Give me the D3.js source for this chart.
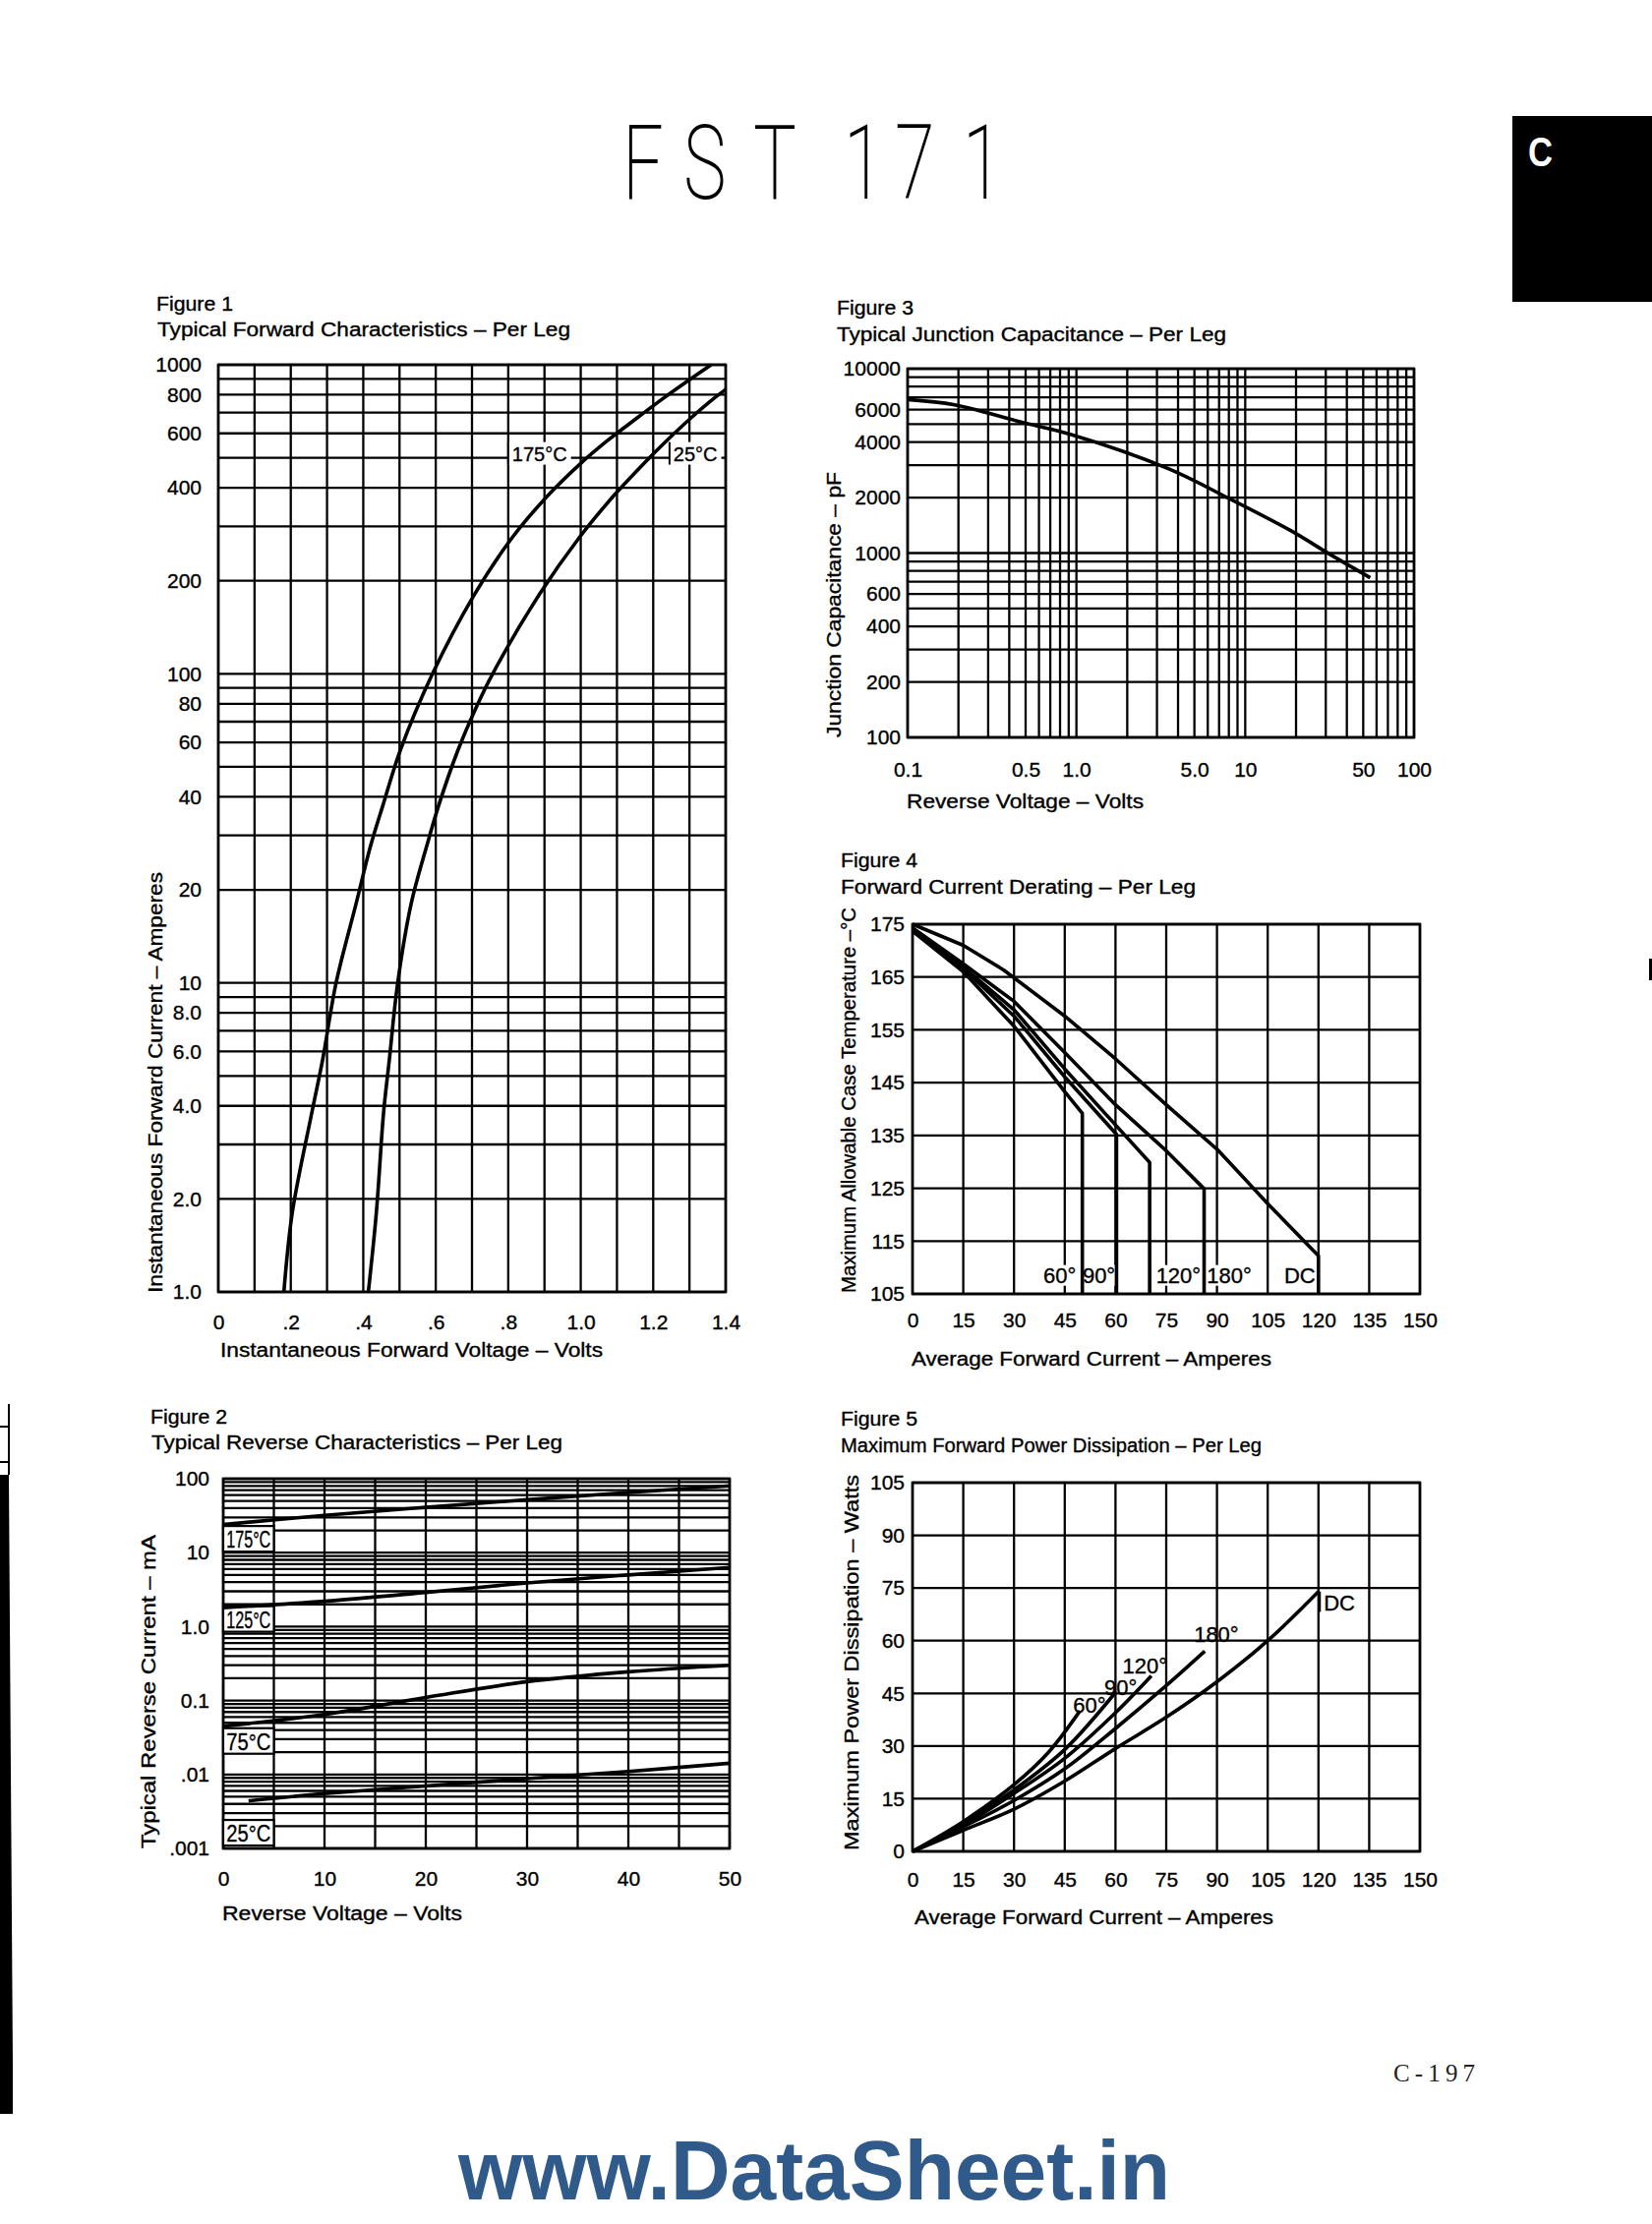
<!DOCTYPE html>
<html><head><meta charset="utf-8">
<script src="https://cdn.jsdelivr.net/npm/d3@7"></script>
<style>html,body{margin:0;padding:0;background:#fff;} svg{display:block}</style>
</head><body>
<svg id="page" width="1680" height="2262"></svg>
<script>
// ================= DATA =================
// Figure 1 – Typical Forward Characteristics (V, A)
const fig1XTicks = [0, 0.2, 0.4, 0.6, 0.8, 1.0, 1.2, 1.4];
const fig1XTickLabels = ["0", ".2", ".4", ".6", ".8", "1.0", "1.2", "1.4"];
const fig1YTicks = [1000, 800, 600, 400, 200, 100, 80, 60, 40, 20, 10, 8, 6, 4, 2, 1];
const fig1YTickLabels = ["1000", "800", "600", "400", "200", "100", "80", "60", "40", "20", "10", "8.0", "6.0", "4.0", "2.0", "1.0"];
const fig1Curve175C = [[0.181,1],[0.204,1.8],[0.258,3.8],[0.288,5.65],[0.325,10],[0.38,18],[0.42,27.7],[0.455,37.8],[0.502,56.5],[0.591,100],[0.706,180],[0.812,277],[0.91,378],[1.002,482],[1.071,565],[1.154,671],[1.226,776],[1.298,891],[1.36,1000]];
const fig1Curve25C = [[0.414,1],[0.436,1.8],[0.456,3.8],[0.472,5.65],[0.495,10],[0.532,18],[0.575,27.7],[0.609,37.8],[0.661,56.5],[0.711,77.6],[0.757,100],[0.885,180],[0.997,277],[1.092,378],[1.176,482],[1.235,565],[1.303,671],[1.366,776],[1.4,832]];
const fig1LabelNames = ["175°C", "25°C"];
const fig1LabelAnchors = [[0.8, 515], [1.245, 515]];

// Figure 2 – Typical Reverse Characteristics (V, mA)
const fig2XTicks = [0, 10, 20, 30, 40, 50];
const fig2YTicks = [100, 10, 1, 0.1, 0.01, 0.001];
const fig2YTickLabels = ["100", "10", "1.0", "0.1", ".01", ".001"];
const fig2Curve175C = [[0,24],[10,32],[20,41],[30,52],[40,65],[50,80]];
const fig2Curve125C = [[0,1.8],[10,2.2],[20,2.9],[30,3.9],[40,5.0],[50,6.3]];
const fig2Curve75C = [[0,0.045],[10,0.065],[20,0.11],[30,0.18],[40,0.245],[50,0.30]];
const fig2Curve25C = [[2.5,0.0044],[10,0.0055],[20,0.007],[30,0.0088],[40,0.011],[50,0.0142]];
const fig2LabelNames = ["175°C", "125°C", "75°C", "25°C"];
const fig2LabelValues = [15.4, 1.27, 0.0284, 0.00163];

// Figure 3 – Typical Junction Capacitance (V, pF)
const fig3XTicks = [0.1, 0.5, 1, 5, 10, 50, 100];
const fig3XTickLabels = ["0.1", "0.5", "1.0", "5.0", "10", "50", "100"];
const fig3YTicks = [10000, 6000, 4000, 2000, 1000, 600, 400, 200, 100];
const fig3Curve = [[0.1,6800],[0.19,6370],[0.47,5130],[0.91,4420],[3.5,2870],[7.9,1990],[18.7,1320],[32,980],[55,735]];

// Figure 4 – Forward Current Derating (A, °C)
const fig4XTicks = [0, 15, 30, 45, 60, 75, 90, 105, 120, 135, 150];
const fig4YTicks = [175, 165, 155, 145, 135, 125, 115, 105];
const fig4CurveDC  = [[0,175],[15,171],[27,166.3],[45,157.6],[60,149.5],[75,140.8],[90,132.4],[105,122.1],[120,112.2],[120,105]];
const fig4Curve180 = [[0,174.3],[15,167.5],[30,160.4],[45,150.7],[60,140.8],[75,132.1],[86.2,124.9],[86.2,105]];
const fig4Curve120 = [[0,174.1],[15,166.9],[30,158.8],[45,147.6],[60,137],[70.1,129.9],[70.1,105]];
const fig4Curve90  = [[0,173.9],[15,166.6],[30,157.6],[45,146.1],[60.3,135.2],[60.3,105]];
const fig4Curve60  = [[0,173.7],[15,166],[30,155.7],[45,143.3],[50.2,139.2],[50.2,105]];
const fig4LabelNames = ["60°", "90°", "120°", "180°", "DC"];
const fig4LabelCenters = [43.5, 55.1, 78.6, 93.6, 114.5];
const fig4LabelLevel = 108.6;

// Figure 5 – Maximum Forward Power Dissipation (A, W)
const fig5XTicks = [0, 15, 30, 45, 60, 75, 90, 105, 120, 135, 150];
const fig5YTicks = [105, 90, 75, 60, 45, 30, 15, 0];
const fig5CurveDC  = [[0,0],[15,6],[30,12],[45,20],[60,29.3],[75,38.2],[90,48.3],[105,60],[120,74]];
const fig5Curve180 = [[0,0],[15,7],[30,14.5],[45,23.5],[60,35],[75,47.2],[86.4,57]];
const fig5Curve120 = [[0,0],[15,7.5],[30,16.5],[45,26.5],[60,39.5],[70.6,50]];
const fig5Curve90  = [[0,0],[15,8],[30,17.5],[45,29],[60.2,45.5]];
const fig5Curve60  = [[0,0],[15,8.5],[30,19],[40,28],[49.5,40]];
const fig5LabelNames = ["DC", "180°", "120°", "90°", "60°"];
const fig5LabelAnchors = [[121, 70.8], [89.8, 61.9], [68.7, 53], [61.5, 46.7], [52.3, 41.7]];

// Page header glyphs
const titleGlyphs = ["F", "S", "T", "1", "7", "1"];

// ================= DRAWING =================
const svg = d3.select("#page");
const FONT = "'Liberation Sans', Arial, Helvetica, sans-serif";
svg.append("rect").attr("width", 1680).attr("height", 2262).attr("fill", "#fff");

function txt(parent, x, y, s, size, len, anchor) {
  const t = parent.append("text").attr("x", x).attr("y", y).text(s)
    .attr("font-family", FONT).attr("font-size", size).attr("fill", "#000")
    .attr("stroke", "#000").attr("stroke-width", 0.35)
    .attr("text-anchor", anchor || "start");
  if (len) t.attr("textLength", len).attr("lengthAdjust", "spacingAndGlyphs");
  return t;
}

function drawPanel(p) {
  const g = svg.append("g");
  const [xa, xb] = p.x.range();
  const [ya, yb] = p.y.range();
  g.append("g").selectAll("line").data(p.xGrid).join("line")
    .attr("x1", d => p.x(d)).attr("x2", d => p.x(d)).attr("y1", yb).attr("y2", ya)
    .attr("stroke", "#000").attr("stroke-width", 2.3);
  g.append("g").selectAll("line").data(p.yGrid).join("line")
    .attr("y1", d => p.y(d)).attr("y2", d => p.y(d)).attr("x1", xa).attr("x2", xb)
    .attr("stroke", "#000").attr("stroke-width", 2.3);
  g.append("rect").attr("x", xa).attr("y", yb).attr("width", xb - xa).attr("height", ya - yb)
    .attr("fill", "none").attr("stroke", "#000").attr("stroke-width", 2.6);

  const bx = g.append("g").attr("transform", `translate(0,${ya})`)
    .call(d3.axisBottom(p.x).tickValues(p.xTicks).tickFormat((d, i) => p.xLabels[i]).tickSize(0).tickPadding(p.xPad));
  bx.select(".domain").remove();
  bx.selectAll("text").attr("font-family", FONT).attr("font-size", 21).attr("fill", "#000")
    .attr("stroke", "#000").attr("stroke-width", 0.35);
  const ly = g.append("g").attr("transform", `translate(${xa},0)`)
    .call(d3.axisLeft(p.y).tickValues(p.yTicks).tickFormat((d, i) => p.yLabels[i]).tickSize(0).tickPadding(p.yPad));
  ly.select(".domain").remove();
  ly.selectAll("text").attr("font-family", FONT).attr("font-size", 21).attr("fill", "#000")
    .attr("stroke", "#000").attr("stroke-width", 0.35);

  txt(g, p.fig[0], p.fig[1], p.fig[2], 20, 78);
  txt(g, p.sub[0], p.sub[1], p.sub[2], 20, p.sub[3]);
  txt(g, p.xt[0], p.xt[1], p.xt[2], 20, p.xt[3]);
  g.append("text").attr("transform", `translate(${p.yt[0]},${p.yt[1]}) rotate(-90)`)
    .attr("font-family", FONT).attr("font-size", 20).attr("fill", "#000")
    .attr("stroke", "#000").attr("stroke-width", 0.35)
    .attr("textLength", p.yt[3]).attr("lengthAdjust", "spacingAndGlyphs").text(p.yt[2]);
  g.layerLabels = g.append("g");
  g.layerCurves = g.append("g");
  g.layerText = g.append("g");
  return g;
}

function drawCurves(g, x, y, series, curveType) {
  const line = d3.line().x(d => x(d[0])).y(d => y(d[1])).curve(curveType);
  g.layerCurves.selectAll("path.c").data(series).join("path").attr("class", "c")
    .attr("d", d => line(d)).attr("fill", "none").attr("stroke", "#000")
    .attr("stroke-width", 3.6).attr("stroke-linejoin", "round").attr("stroke-linecap", "butt");
}
const smooth = d3.curveCatmullRom.alpha(0.5);

// ---------- Figure 1 ----------
const x1 = d3.scaleLinear().domain([0, 1.4]).range([222, 738]);
const y1 = d3.scaleLog().domain([1, 1000]).range([1314, 371]);
const g1 = drawPanel({
  x: x1, y: y1, xGrid: d3.range(0, 15).map(i => i / 10), yGrid: y1.ticks(),
  xTicks: fig1XTicks, xLabels: fig1XTickLabels, yTicks: fig1YTicks, yLabels: fig1YTickLabels,
  xPad: 23, yPad: 17,
  fig: [159, 316, "Figure 1"],
  sub: [160, 342, "Typical Forward Characteristics – Per Leg", 420],
  xt: [224, 1380, "Instantaneous Forward Voltage – Volts", 389],
  yt: [165, 1315, "Instantaneous Forward Current – Amperes", 428]
});
fig1LabelNames.forEach((name, i) => {
  const [vx, vy] = fig1LabelAnchors[i];
  const left = x1(vx), cy = y1(vy);
  const t = txt(g1.layerText, left + 4, cy + 7, name, 20);
  const bb = t.node().getBBox();
  const right = Math.min(bb.x + bb.width + 4, x1.range()[1]);
  g1.layerLabels.append("rect").attr("x", left).attr("y", cy - 12).attr("width", right - left).attr("height", 23).attr("fill", "#fff");
  g1.layerText.append("line").attr("x1", left).attr("x2", left).attr("y1", cy - 12).attr("y2", cy + 11)
    .attr("stroke", "#000").attr("stroke-width", 2);
});
drawCurves(g1, x1, y1, [fig1Curve175C, fig1Curve25C], smooth);

// ---------- Figure 3 ----------
const x3 = d3.scaleLog().domain([0.1, 100]).range([923, 1438]);
const y3 = d3.scaleLog().domain([100, 10000]).range([750, 375]);
const g3 = drawPanel({
  x: x3, y: y3, xGrid: x3.ticks(), yGrid: y3.ticks(),
  xTicks: fig3XTicks, xLabels: fig3XTickLabels, yTicks: fig3YTicks, yLabels: fig3YTicks.map(String),
  xPad: 25, yPad: 7,
  fig: [851, 320, "Figure 3"],
  sub: [851, 347, "Typical Junction Capacitance – Per Leg", 396],
  xt: [922, 822, "Reverse Voltage – Volts", 241],
  yt: [855, 750, "Junction Capacitance – pF", 270]
});
drawCurves(g3, x3, y3, [fig3Curve], smooth);

// ---------- Figure 4 ----------
const x4 = d3.scaleLinear().domain([0, 150]).range([928, 1444]);
const y4 = d3.scaleLinear().domain([105, 175]).range([1316, 940]);
const g4 = drawPanel({
  x: x4, y: y4, xGrid: fig4XTicks, yGrid: fig4YTicks,
  xTicks: fig4XTicks, xLabels: fig4XTicks.map(String), yTicks: fig4YTicks, yLabels: fig4YTicks.map(String),
  xPad: 19, yPad: 8,
  fig: [855, 882, "Figure 4"],
  sub: [855, 909, "Forward Current Derating – Per Leg", 361],
  xt: [927, 1389, "Average Forward Current – Amperes", 366],
  yt: [870, 1315, "Maximum Allowable Case Temperature –°C", 392]
});
fig4LabelNames.forEach((name, i) => {
  const t = txt(g4.layerText, x4(fig4LabelCenters[i]), y4(fig4LabelLevel) + 8, name, 22, null, "middle");
  const bb = t.node().getBBox();
  g4.layerLabels.append("rect").attr("x", bb.x - 1).attr("y", bb.y + 2).attr("width", bb.width + 2).attr("height", bb.height - 4).attr("fill", "#fff");
});
drawCurves(g4, x4, y4, [fig4CurveDC, fig4Curve180, fig4Curve120, fig4Curve90, fig4Curve60], d3.curveLinear);

// ---------- Figure 2 ----------
const x2 = d3.scaleLinear().domain([0, 50]).range([227, 742]);
const y2 = d3.scaleLog().domain([0.001, 100]).range([1880, 1504]);
const g2 = drawPanel({
  x: x2, y: y2, xGrid: d3.range(0, 51, 5), yGrid: y2.ticks(),
  xTicks: fig2XTicks, xLabels: fig2XTicks.map(String), yTicks: fig2YTicks, yLabels: fig2YTickLabels,
  xPad: 23, yPad: 14,
  fig: [153, 1448, "Figure 2"],
  sub: [154, 1474, "Typical Reverse Characteristics – Per Leg", 418],
  xt: [226, 1953, "Reverse Voltage – Volts", 244],
  yt: [158, 1880, "Typical Reverse Current – mA", 319]
});
fig2LabelNames.forEach((name, i) => {
  const cy = y2(fig2LabelValues[i]);
  const l = x2(0), r = x2(5);
  g2.layerLabels.append("rect").attr("x", l).attr("y", cy - 13).attr("width", r - l).attr("height", 26)
    .attr("fill", "#fff").attr("stroke", "#000").attr("stroke-width", 2.2);
  txt(g2.layerText, (l + r) / 2, cy + 9, name, 24, 45, "middle");
});
drawCurves(g2, x2, y2, [fig2Curve175C, fig2Curve125C, fig2Curve75C, fig2Curve25C], smooth);

// ---------- Figure 5 ----------
const x5 = d3.scaleLinear().domain([0, 150]).range([928, 1444]);
const y5 = d3.scaleLinear().domain([0, 105]).range([1883, 1508]);
const g5 = drawPanel({
  x: x5, y: y5, xGrid: fig5XTicks, yGrid: fig5YTicks,
  xTicks: fig5XTicks, xLabels: fig5XTicks.map(String), yTicks: fig5YTicks, yLabels: fig5YTicks.map(String),
  xPad: 21, yPad: 8,
  fig: [855, 1450, "Figure 5"],
  sub: [855, 1477, "Maximum Forward Power Dissipation – Per Leg", 428],
  xt: [930, 1957, "Average Forward Current – Amperes", 365],
  yt: [873, 1882, "Maximum Power Dissipation – Watts", 382]
});
drawCurves(g5, x5, y5, [fig5CurveDC, fig5Curve180, fig5Curve120, fig5Curve90, fig5Curve60], smooth);
fig5LabelNames.forEach((name, i) => {
  const [ax, ay] = fig5LabelAnchors[i];
  if (name === "DC") {
    txt(g5.layerText, x5(ax) + 2, y5(ay) + 8, name, 22);
    g5.layerText.append("line").attr("x1", x5(ax) - 2).attr("x2", x5(ax) - 2)
      .attr("y1", y5(74)).attr("y2", y5(68.2)).attr("stroke", "#000").attr("stroke-width", 2);
  } else {
    txt(g5.layerText, x5(ax), y5(ay) + 8, name, 22, null, "middle");
  }
});

// ---------- Page decorations ----------
const deco = svg.append("g");
const TS = 0.7;
const titleXs = [633, 695, 766, 858, 910, 979];
deco.append("g").attr("transform", `translate(0,202) scale(${TS},1)`)
  .append("text").attr("x", titleXs.map(v => v / TS).join(" ")).attr("y", 0)
  .text(titleGlyphs.join(""))
  .attr("font-family", "Roboto, Lato, 'DejaVu Sans', sans-serif").attr("font-weight", 200)
  .attr("font-size", 105).attr("fill", "#000");
deco.append("rect").attr("x", 1538).attr("y", 118).attr("width", 142).attr("height", 189).attr("fill", "#000");
deco.append("text").attr("x", 1554).attr("y", 169).text("C").attr("fill", "#fff")
  .attr("font-family", FONT).attr("font-weight", "bold").attr("font-size", 42)
  .attr("textLength", 25).attr("lengthAdjust", "spacingAndGlyphs");
deco.append("text").attr("x", 1417).attr("y", 2117).text("C-197").attr("fill", "#222")
  .attr("font-family", "'Liberation Serif', 'Times New Roman', serif").attr("font-size", 25)
  .attr("textLength", 83).attr("lengthAdjust", "spacing");
deco.append("text").attr("x", 466).attr("y", 2237).text("www.DataSheet.in").attr("fill", "#2f5a8a")
  .attr("font-family", FONT).attr("font-weight", "bold").attr("font-size", 86)
  .attr("textLength", 724).attr("lengthAdjust", "spacingAndGlyphs");
// left binding edge and right edge speck
deco.append("path").attr("d", "M0,1500 L9,1500 L11,1800 L13,2100 L13,2150 L0,2150 Z").attr("fill", "#000");
deco.append("line").attr("x1", 9).attr("x2", 9).attr("y1", 1428).attr("y2", 1500).attr("stroke", "#000").attr("stroke-width", 2);
[1451, 1487].forEach(yy => deco.append("line").attr("x1", 0).attr("x2", 9).attr("y1", yy).attr("y2", yy).attr("stroke", "#000").attr("stroke-width", 2));
deco.append("rect").attr("x", 1677).attr("y", 975).attr("width", 3).attr("height", 22).attr("fill", "#000");
</script>
</body></html>
